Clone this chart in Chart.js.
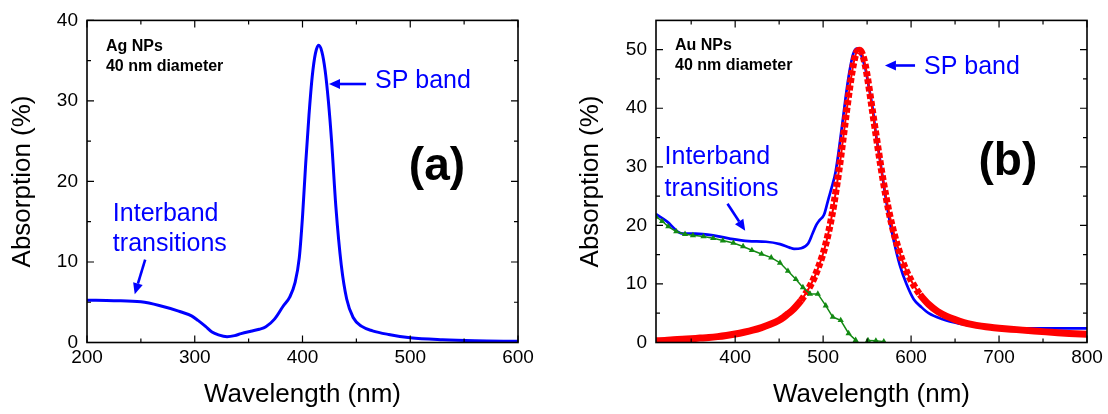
<!DOCTYPE html>
<html>
<head>
<meta charset="utf-8">
<script src="https://cdn.jsdelivr.net/npm/chart.js@4.4.1/dist/chart.umd.min.js"></script>
<style>
  html, body { margin: 0; padding: 0; background: #fff; }
  #wrap { position: relative; width: 1108px; height: 414px; }
  canvas { position: absolute; top: 0; }
  #ag { left: 0; }
  #au { left: 554px; }
</style>
</head>
<body>
<div id="wrap">
  <canvas id="ag" width="554" height="414"></canvas>
  <canvas id="au" width="554" height="414"></canvas>
</div>
<script>
// ---- panel (a): Ag NPs, measured absorption ----
const AG_WL  = [200, 225, 250, 267, 285, 297, 303, 310, 316, 322, 330, 337, 343, 352, 360, 366, 374, 382, 388, 393,
                397, 400, 403, 406, 409, 412, 415, 418, 421, 424, 427, 431, 436, 441, 447, 455, 465, 480, 500, 530, 560, 600];
const AG_ABS = [5.25, 5.2, 5.05, 4.6, 3.9, 3.3, 2.75, 2.0, 1.3, 0.95, 0.72, 0.85, 1.1, 1.4, 1.65, 1.95, 2.9, 4.5, 5.6, 7.4,
                10.5, 15.6, 22.3, 28.2, 33.0, 35.9, 36.9, 36.1, 33.8, 30.0, 25.0, 16.8, 9.6, 5.4, 3.1, 2.0, 1.45, 1.0, 0.6, 0.35, 0.22, 0.15];

// ---- panel (b): Au NPs, measured absorption ----
const AU_WL  = [310, 323, 335, 341, 355, 375, 395, 415, 435, 451, 462, 467, 475, 483, 488, 492, 496, 501, 506, 510,
                514, 518, 522, 526, 530, 534, 538, 541, 544, 548, 552, 556, 560, 565, 570, 575, 580, 587, 595, 603,
                612, 620, 635, 655, 675, 700, 735, 770, 800];
const AU_ABS = [21.9, 20.6, 18.9, 18.6, 18.6, 18.3, 17.7, 17.3, 17.2, 16.8, 16.2, 16.0, 16.1, 16.9, 18.6, 20.0, 20.9, 21.8, 24.5, 26.6,
                29.0, 33.0, 37.6, 42.3, 46.3, 49.2, 50.2, 50.0, 48.8, 46.8, 43.6, 40.3, 35.6, 30.9, 25.8, 21.3, 17.6, 13.3, 9.9, 7.4,
                6.0, 5.0, 4.0, 3.2, 2.75, 2.5, 2.4, 2.4, 2.4];

// SP band fit (red squares)
const FIT_WL  = [310, 320, 330, 340, 350, 360, 370, 380, 390, 400, 410, 420, 430, 440, 450, 455, 460, 465, 470, 475,
                 480, 485, 490, 495, 500, 503, 506, 509, 512, 515, 518, 521, 524, 527, 530, 533, 536, 539, 542, 545,
                 548, 551, 554, 557, 560, 563, 566, 569, 572, 575, 578, 581, 585, 590, 595, 600, 605, 610, 615, 620,
                 630, 640, 650, 660, 670, 680, 690, 700, 720, 740, 760, 780, 800];
const FIT_ABS = [0.3, 0.35, 0.45, 0.55, 0.65, 0.75, 0.85, 1.0, 1.2, 1.45, 1.75, 2.1, 2.55, 3.1, 3.8, 4.3, 4.9, 5.5, 6.3, 7.2,
                 8.3, 9.6, 11.1, 13.0, 15.2, 16.8, 18.7, 20.9, 23.4, 26.3, 29.4, 32.8, 36.3, 39.9, 43.3, 46.3, 48.6, 49.8, 49.9, 49.1,
                 47.3, 44.7, 41.7, 38.6, 35.6, 32.6, 29.7, 27.0, 24.5, 22.2, 20.2, 18.4, 16.3, 14.0, 12.1, 10.6, 9.3, 8.2, 7.3, 6.5,
                 5.3, 4.5, 3.9, 3.4, 3.05, 2.8, 2.6, 2.45, 2.2, 1.95, 1.75, 1.55, 1.4];

// interband contribution (green triangles); null = gap in the curve
const IB_WL  = [310, 317, 324, 333, 343, 352, 364, 375, 386, 398, 409, 419, 430, 441, 451, 460, 469, 477, 485, 494,
                503, 511, 520, 529, 537, 544, 551, 560, 569];
const IB_ABS = [21.5, 20.7, 19.8, 18.95, 18.5, 18.3, 18.1, 17.8, 17.4, 17.0, 16.4, 15.75, 15.1, 14.5, 13.6, 12.2, 10.8, 9.4, 8.3, 8.3,
                6.3, 4.35, 3.8, 1.55, 0.4, null, 0.35, 0.3, 0.15];

// axis ticks
const AG_X_MAJOR = [200, 300, 400, 500, 600];
const AG_X_MINOR = [250, 350, 450, 550];
const AG_Y_MAJOR = [0, 10, 20, 30, 40];
const AG_Y_MINOR = [5, 15, 25, 35];
const AU_X_MAJOR = [400, 500, 600, 700, 800];
const AU_X_MINOR = [350, 450, 550, 650, 750];
const AU_Y_MAJOR = [0, 10, 20, 30, 40, 50];
const AU_Y_MINOR = [5, 15, 25, 35, 45];

Chart.defaults.font.family = "'Liberation Sans', Arial, sans-serif";
Chart.defaults.color = '#000';

const BLUE = '#0000ff';
const RED = '#ff0000';
const GREEN = '#138a13';

const pts = (xs, ys) => xs.map((x, i) => ({ x, y: ys[i] }));

// box round the plot with inward ticks on all four sides
function frameAndTicks(xMinor, yMinor) {
  return {
    id: 'frameAndTicks',
    afterDatasetsDraw(chart) {
      const { ctx, chartArea: a } = chart;
      const xs = chart.scales.x, ys = chart.scales.y;
      const xt = xs.ticks.map(t => [t.value, 7]).concat(xMinor.map(v => [v, 4]));
      const yt = ys.ticks.map(t => [t.value, 7]).concat(yMinor.map(v => [v, 4]));
      ctx.save();
      ctx.strokeStyle = '#000';
      ctx.lineWidth = 1.2;
      ctx.beginPath();
      xt.forEach(([v, len]) => {
        const px = xs.getPixelForValue(v);
        ctx.moveTo(px, a.bottom); ctx.lineTo(px, a.bottom - len);
        ctx.moveTo(px, a.top); ctx.lineTo(px, a.top + len);
      });
      yt.forEach(([v, len]) => {
        const py = ys.getPixelForValue(v);
        ctx.moveTo(a.left, py); ctx.lineTo(a.left + len, py);
        ctx.moveTo(a.right, py); ctx.lineTo(a.right - len, py);
      });
      ctx.stroke();
      ctx.lineWidth = 1.6;
      ctx.strokeRect(a.left, a.top, a.right - a.left, a.bottom - a.top);
      ctx.restore();
    }
  };
}

// labels and arrows placed in data coordinates
function notes(texts, arrows) {
  return {
    id: 'notes',
    afterDatasetsDraw(chart) {
      const { ctx } = chart;
      const xs = chart.scales.x, ys = chart.scales.y;
      ctx.save();
      texts.forEach(t => {
        ctx.font = t.font;
        ctx.fillStyle = t.color;
        ctx.textAlign = t.align || 'left';
        ctx.textBaseline = 'middle';
        ctx.fillText(t.text, xs.getPixelForValue(t.x), ys.getPixelForValue(t.y));
      });
      arrows.forEach(ar => {
        const x0 = xs.getPixelForValue(ar.from[0]), y0 = ys.getPixelForValue(ar.from[1]);
        const x1 = xs.getPixelForValue(ar.to[0]), y1 = ys.getPixelForValue(ar.to[1]);
        const ang = Math.atan2(y1 - y0, x1 - x0);
        const head = 11, half = 5;
        const bx = x1 - head * Math.cos(ang), by = y1 - head * Math.sin(ang);
        ctx.strokeStyle = BLUE;
        ctx.fillStyle = BLUE;
        ctx.lineWidth = 2.6;
        ctx.beginPath(); ctx.moveTo(x0, y0); ctx.lineTo(bx, by); ctx.stroke();
        ctx.beginPath();
        ctx.moveTo(x1, y1);
        ctx.lineTo(bx + half * Math.sin(ang), by - half * Math.cos(ang));
        ctx.lineTo(bx - half * Math.sin(ang), by + half * Math.cos(ang));
        ctx.closePath();
        ctx.fill();
      });
      ctx.restore();
    }
  };
}

function makeChart(id, o) {
  const tickFont = { size: 19 };
  const titleFont = { size: 26, lineHeight: 1 };
  return new Chart(document.getElementById(id), {
    type: 'line',
    data: { datasets: o.datasets },
    options: {
      responsive: false,
      animation: false,
      events: [],
      layout: { padding: o.padding },
      plugins: { legend: { display: false }, tooltip: { enabled: false } },
      scales: {
        x: {
          type: 'linear', min: o.xMin, max: o.xMax,
          afterBuildTicks: s => { s.ticks = o.xMajor.map(v => ({ value: v })); },
          afterFit: s => { s.height = 71.5; },
          grid: { display: false, drawTicks: false },
          border: { display: false },
          ticks: { font: tickFont, color: '#000', padding: 4, maxRotation: 0, autoSkip: false },
          title: { display: true, text: 'Wavelength (nm)', font: titleFont, color: '#000', padding: { top: 0, bottom: 6 } }
        },
        y: {
          type: 'linear', min: o.yMin, max: o.yMax,
          afterBuildTicks: s => { s.ticks = o.yMajor.map(v => ({ value: v })); },
          afterFit: s => { s.width = o.yWidth; },
          grid: { display: false, drawTicks: false },
          border: { display: false },
          ticks: { font: tickFont, color: '#000', padding: 9, autoSkip: false },
          title: { display: true, text: 'Absorption (%)', font: titleFont, color: '#000', padding: { top: o.yTitlePad, bottom: 0 } }
        }
      }
    },
    plugins: [frameAndTicks(o.xMinor, o.yMinor), notes(o.texts, o.arrows)]
  });
}

const small = 'bold 16px "Liberation Sans", Arial, sans-serif';
const mid = '25px "Liberation Sans", Arial, sans-serif';
const big = 'bold 46px "Liberation Sans", Arial, sans-serif';

makeChart('ag', {
  xMin: 200, xMax: 600, yMin: 0, yMax: 40,
  xMajor: AG_X_MAJOR, xMinor: AG_X_MINOR, yMajor: AG_Y_MAJOR, yMinor: AG_Y_MINOR,
  padding: { left: 0, right: 36, top: 15, bottom: 0 },
  yWidth: 87, yTitlePad: 10,
  datasets: [{
    data: pts(AG_WL, AG_ABS),
    borderColor: BLUE, borderWidth: 3, pointRadius: 0,
    cubicInterpolationMode: 'monotone'
  }],
  texts: [
    { text: 'Ag NPs', x: 217.6, y: 36.7, font: small, color: '#000' },
    { text: '40 nm diameter', x: 217.6, y: 34.3, font: small, color: '#000' },
    { text: 'SP band', x: 467.3, y: 32.5, font: mid, color: BLUE },
    { text: '(a)', x: 524.8, y: 21.7, font: big, color: '#000', align: 'center' },
    { text: 'Interband', x: 224, y: 16.0, font: mid, color: BLUE },
    { text: 'transitions', x: 224, y: 12.2, font: mid, color: BLUE }
  ],
  arrows: [
    { from: [459, 32.1], to: [424.6, 32.1] },
    { from: [254, 10.3], to: [244.3, 6.0] }
  ]
});

makeChart('au', {
  xMin: 310, xMax: 800, yMin: 0, yMax: 55,
  xMajor: AU_X_MAJOR, xMinor: AU_X_MINOR, yMajor: AU_Y_MAJOR, yMinor: AU_Y_MINOR,
  padding: { left: 0, right: 21, top: 16, bottom: 0 },
  yWidth: 102, yTitlePad: 24,
  datasets: [
    {
      data: pts(AU_WL, AU_ABS),
      borderColor: BLUE, borderWidth: 2.7, pointRadius: 0,
      cubicInterpolationMode: 'monotone', order: 3
    },
    {
      data: pts(FIT_WL, FIT_ABS),
      borderColor: RED, borderWidth: 2, pointRadius: 0,
      cubicInterpolationMode: 'monotone', order: 2
    },
    {
      data: pts(FIT_WL, FIT_ABS),
      borderColor: RED, borderWidth: 7, pointRadius: 0, borderCapStyle: 'butt',
      cubicInterpolationMode: 'monotone', order: 2, clip: 0,
      segment: {
        borderDash: c => Math.abs(c.p1.y - c.p0.y) > 1.2 * Math.abs(c.p1.x - c.p0.x) ? [5, 2.5] : undefined
      }
    },
    {
      data: pts(IB_WL, IB_ABS),
      borderColor: GREEN, borderWidth: 1.5,
      pointStyle: 'triangle', pointRadius: 3.6, pointBackgroundColor: GREEN, pointBorderColor: GREEN, pointBorderWidth: 0,
      spanGaps: false, order: 1
    }
  ],
  texts: [
    { text: 'Au NPs', x: 331.6, y: 50.7, font: small, color: '#000' },
    { text: '40 nm diameter', x: 331.6, y: 47.2, font: small, color: '#000' },
    { text: 'SP band', x: 614.7, y: 47.0, font: mid, color: BLUE },
    { text: '(b)', x: 710, y: 30.7, font: big, color: '#000', align: 'center' },
    { text: 'Interband', x: 319.7, y: 31.6, font: mid, color: BLUE },
    { text: 'transitions', x: 319.7, y: 26.2, font: mid, color: BLUE }
  ],
  arrows: [
    { from: [604.5, 47.3], to: [570.3, 47.3] },
    { from: [391.3, 23.7], to: [411.4, 19.1] }
  ]
});
</script>
</body>
</html>
